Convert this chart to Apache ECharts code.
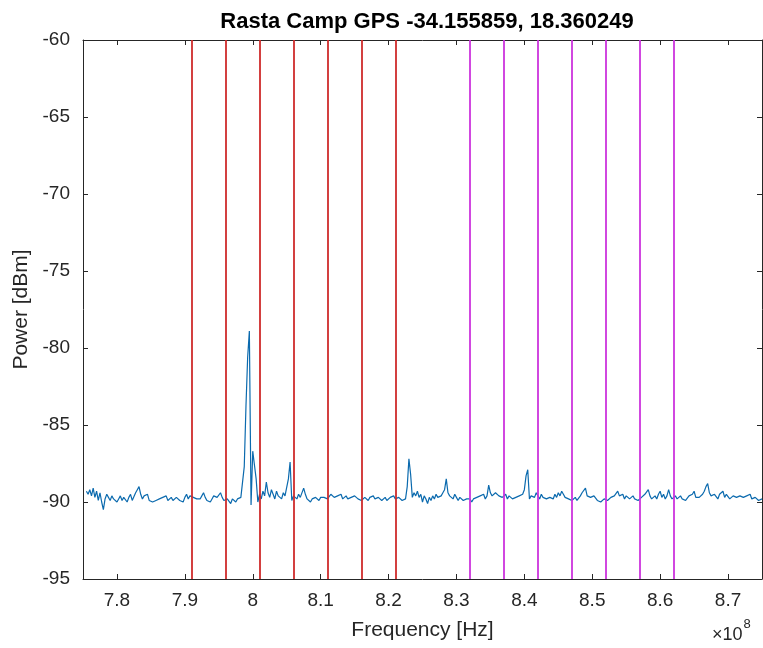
<!DOCTYPE html>
<html>
<head>
<meta charset="utf-8">
<script src="https://cdn.jsdelivr.net/npm/echarts@6/dist/echarts.min.js"></script>
<style>html,body{margin:0;padding:0;background:#fff;}#c{width:763px;height:648px;}</style>
</head>
<body>
<div id="c"></div>
<script>
// Frequency sweep (units of 1e8 Hz)
var startFreq = 7.755;
var stepFreq = 0.0025;
// Measured power [dBm]
var power = [
-89.3,-89.5,-89.2,-89.6,-89.1,-89.7,-89.3,-89.9,-89.4,-90.0,-90.5,-89.8,-89.5,-89.7,-89.9,-89.6,-89.8,-89.7,-90.0,-89.8,
-89.6,-89.9,-89.7,-89.8,-90.0,-89.7,-89.5,-89.9,-89.8,-89.4,-89.2,-89.0,-89.5,-89.8,-89.6,-89.7,-89.5,-89.9,-89.8,-90.0,
-90.1,-89.9,-90.0,-89.8,-89.9,-89.7,-89.8,-89.6,-89.9,-89.8,-89.7,-89.9,-89.8,-89.7,-89.6,-89.9,-89.8,-90.0,-89.7,-89.5,
-89.8,-89.6,-89.5,-89.7,-89.6,-89.8,-89.9,-89.8,-89.6,-89.4,-89.7,-89.9,-89.8,-90.0,-89.8,-89.6,-89.5,-89.7,-89.8,-89.4,
-89.7,-89.9,-90.0,-89.8,-89.9,-90.1,-89.8,-89.9,-90.0,-89.8,-89.9,-89.7,-89.8,-87.7,-83.8,-80.6,-78.9,-90.2,-86.7,-87.6,
-88.5,-90.0,-89.5,-89.8,-89.3,-89.6,-88.7,-89.4,-89.7,-89.2,-89.5,-89.8,-89.3,-89.6,-89.5,-89.8,-89.4,-89.6,-89.5,-88.5,
-87.4,-89.9,-89.6,-89.7,-89.8,-89.5,-89.7,-89.6,-89.1,-89.5,-89.8,-89.9,-90.0,-89.8,-89.9,-89.7,-89.8,-89.9,-89.7,-89.8,
-89.7,-89.6,-89.8,-89.7,-89.5,-89.6,-89.7,-89.8,-89.6,-89.7,-89.5,-89.8,-89.7,-89.6,-89.8,-89.9,-89.7,-89.8,-89.6,-89.7,
-89.8,-89.7,-89.9,-89.8,-89.7,-89.8,-89.9,-89.7,-89.8,-89.6,-89.8,-89.9,-89.7,-89.8,-89.9,-89.8,-89.7,-89.9,-89.8,-89.7,
-89.8,-89.6,-89.8,-89.9,-89.7,-89.8,-89.9,-90.0,-89.8,-89.0,-87.2,-88.2,-89.7,-89.4,-89.6,-89.3,-89.7,-89.5,-90.0,-89.6,
-89.8,-90.1,-89.7,-89.9,-89.6,-89.8,-89.5,-89.7,-89.8,-89.6,-89.4,-89.2,-88.5,-89.4,-89.6,-89.7,-89.8,-89.5,-89.7,-89.9,
-89.7,-89.8,-89.9,-90.0,-89.8,-89.7,-89.8,-90.0,-89.8,-89.9,-89.7,-89.8,-89.6,-89.7,-89.5,-89.8,-89.6,-88.9,-89.4,-89.6,
-89.5,-89.4,-89.3,-89.6,-89.5,-89.7,-89.6,-89.5,-89.8,-89.6,-89.7,-89.8,-89.9,-89.7,-89.8,-89.6,-89.7,-89.5,-89.2,-88.3,
-87.9,-89.8,-89.6,-89.5,-89.7,-89.4,-89.6,-89.8,-89.5,-89.7,-89.6,-89.8,-89.9,-89.7,-89.6,-89.8,-89.5,-89.7,-89.4,-89.6,
-89.3,-89.5,-89.7,-89.6,-89.8,-89.7,-89.9,-89.8,-89.7,-89.9,-89.8,-89.6,-89.4,-89.5,-89.1,-89.6,-89.5,-89.7,-89.8,-89.6,
-89.7,-89.9,-89.8,-90.0,-89.9,-89.8,-89.7,-89.9,-89.8,-89.7,-89.8,-89.6,-89.5,-89.3,-89.6,-89.7,-89.5,-89.8,-89.6,-89.7,
-89.8,-89.7,-89.6,-89.8,-89.7,-89.9,-89.8,-89.7,-89.6,-89.5,-89.4,-89.2,-89.6,-89.8,-89.7,-89.6,-89.8,-89.5,-89.3,-89.7,
-89.5,-89.8,-89.6,-89.2,-89.6,-89.8,-89.7,-89.6,-89.8,-89.7,-89.6,-89.8,-89.7,-89.9,-89.8,-89.6,-89.7,-89.5,-89.3,-89.7,
-89.8,-89.7,-89.6,-89.5,-89.3,-89.0,-88.8,-89.4,-89.6,-89.7,-89.5,-89.6,-89.8,-89.5,-89.6,-89.3,-89.7,-89.5,-89.6,-89.8,
-89.7,-89.6,-89.5,-89.7,-89.8,-89.6,-89.5,-89.7,-89.8,-89.6,-89.7,-89.5,-89.8,-89.9,-89.7,-89.8,-89.9,-90.0,-89.8
];
// Channel markers (units of 1e8 Hz)
var redLines = [7.91, 7.96, 8.01, 8.06, 8.11, 8.16, 8.21];
var magentaLines = [8.32, 8.37, 8.42, 8.47, 8.52, 8.57, 8.62];
// Axis ticks
var xTicks = [7.8, 7.9, 8.0, 8.1, 8.2, 8.3, 8.4, 8.5, 8.6, 8.7];
var xMin = 7.75, xMax = 8.75;
var yMin = -95, yMax = -60, yStep = 5;

var seriesData = power.map(function (p, i) { return [startFreq + stepFreq * i, p]; });

var axisColor = '#262626';
var font = 'Liberation Sans, Arial, sans-serif';
function fmtX(v) { return String(+(+v).toFixed(1)); }

var chart = echarts.init(document.getElementById('c'), null, { renderer: 'canvas' });
chart.setOption({
  animation: false,
  backgroundColor: '#fff',
  title: {
    text: 'Rasta Camp GPS -34.155859, 18.360249',
    left: 422, top: 6, textAlign: 'center',
    textStyle: { fontFamily: font, fontSize: 22, fontWeight: 'bold', color: '#000' }
  },
  grid: { left: 83, right: 1, top: 40, bottom: 69, containLabel: false },
  xAxis: [{
    type: 'value', min: xMin, max: xMax, position: 'bottom',
    axisLine: { onZero: false, lineStyle: { color: axisColor, width: 1 } },
    axisTick: { inside: true, length: 5, customValues: xTicks, lineStyle: { color: axisColor } },
    axisLabel: { customValues: xTicks, formatter: fmtX, color: axisColor, fontFamily: font, fontSize: 19, margin: 12 },
    splitLine: { show: false },
    name: 'Frequency [Hz]', nameLocation: 'middle', nameGap: 41,
    nameTextStyle: { fontFamily: font, fontSize: 21, color: axisColor }
  }, {
    type: 'value', min: xMin, max: xMax, position: 'top',
    axisLine: { onZero: false, lineStyle: { color: axisColor, width: 1 } },
    axisTick: { inside: true, length: 5, customValues: xTicks, lineStyle: { color: axisColor } },
    axisLabel: { show: false }, splitLine: { show: false }
  }],
  yAxis: [{
    type: 'value', min: yMin, max: yMax, interval: yStep, position: 'left',
    axisLine: { show: true, onZero: false, lineStyle: { color: axisColor, width: 1 } },
    axisTick: { show: true, inside: true, length: 5, lineStyle: { color: axisColor } },
    axisLabel: { color: axisColor, fontFamily: font, fontSize: 19, margin: 13 },
    splitLine: { show: false },
    name: 'Power [dBm]', nameLocation: 'middle', nameGap: 51, nameRotate: 90,
    nameTextStyle: { fontFamily: font, fontSize: 21, color: axisColor }
  }, {
    type: 'value', min: yMin, max: yMax, interval: yStep, position: 'right',
    axisLine: { show: true, onZero: false, lineStyle: { color: axisColor, width: 1 } },
    axisTick: { show: true, inside: true, length: 5, lineStyle: { color: axisColor } },
    axisLabel: { show: false }, splitLine: { show: false }
  }],
  graphic: [{
    type: 'text', left: 712, top: 618,
    style: {
      text: '{a|×10}{b|8}',
      rich: {
        a: { fontFamily: font, fontSize: 18, fill: axisColor, verticalAlign: 'bottom', padding: [8, 0, 0, 0] },
        b: { fontFamily: font, fontSize: 13, fill: axisColor, verticalAlign: 'top', padding: [0, 0, 8, 1] }
      }
    }
  }],
  series: [{
    type: 'line', xAxisIndex: 0, yAxisIndex: 0,
    data: seriesData, showSymbol: false, symbol: 'none',
    lineStyle: { color: '#0B6AAE', width: 1.2 },
    z: 3
  }, {
    type: 'line', xAxisIndex: 0, yAxisIndex: 0, data: [], z: 2,
    markLine: {
      silent: true, symbol: 'none', label: { show: false },
      lineStyle: { color: '#CF2B2B', width: 1.8, type: 'solid' },
      data: redLines.map(function (f) { return { xAxis: f }; })
    }
  }, {
    type: 'line', xAxisIndex: 0, yAxisIndex: 0, data: [], z: 2,
    markLine: {
      silent: true, symbol: 'none', label: { show: false },
      lineStyle: { color: '#CC33DD', width: 1.8, type: 'solid' },
      data: magentaLines.map(function (f) { return { xAxis: f }; })
    }
  }]
});
</script>
</body>
</html>
